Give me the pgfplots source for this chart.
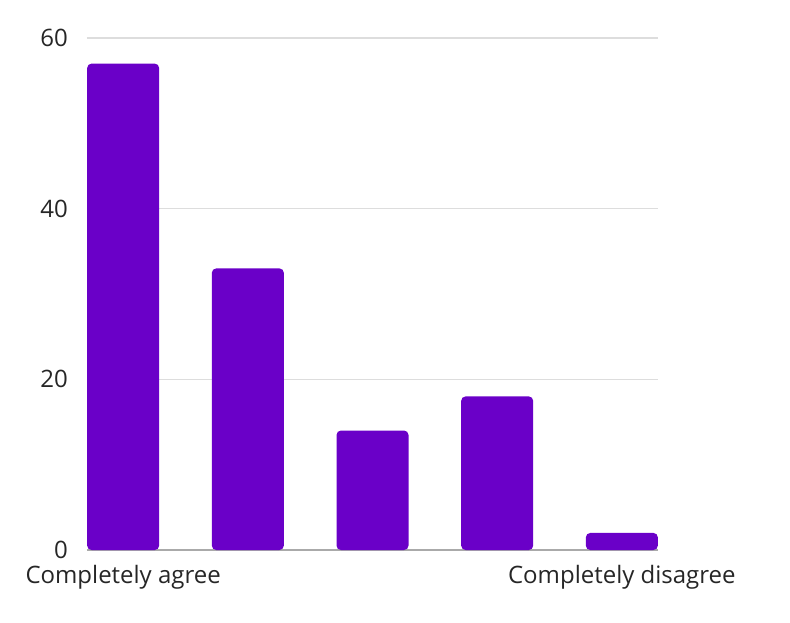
\documentclass[border=0pt]{standalone}
\usepackage{pgfplots}
\pgfplotsset{compat=1.18}
\usepackage{fontspec}
\setmainfont{Open Sans}
\definecolor{barpurple}{HTML}{6A00C8}
\definecolor{gridgrey}{HTML}{DDDDDD}
\definecolor{axisgrey}{HTML}{AAAAAA}

\begin{document}
\begin{tikzpicture}[x=0.5pt,y=0.5pt]
\useasboundingbox (0,0) rectangle (790,622);
\begin{axis}[
    at={(87*0.5pt,72*0.5pt)},
    anchor=south west,
    scale only axis,
    width=285.5pt,
    height=256pt,
    xmin=-0.29, xmax=4.29,
    ymin=0, ymax=60,
    ytick={0,20,40,60},
    xtick={0,4},
    xticklabels={Completely agree,Completely disagree},
    ymajorgrids,
    grid style={gridgrey, line width=0.6pt},
    axis x line*=bottom,
    axis y line*=left,
    y axis line style={draw=none},
    x axis line style={axisgrey, line width=0.7pt, -},
    major tick length=0pt,
    tick style={draw=none},
    ticklabel style={font=\fontsize{12}{14}\selectfont, text=black!85},
    yticklabel style={xshift=-6pt},
    xticklabel style={yshift=-4pt},
    /pgf/number format/assume math mode=true,
    axis on top=false,
]
\addplot[ybar, bar width=36pt, fill=barpurple, draw=none, rounded corners=2.2pt]
coordinates {(0,57) (1,33) (2,14) (3,18) (4,2)};
\end{axis}
\end{tikzpicture}
\end{document}
